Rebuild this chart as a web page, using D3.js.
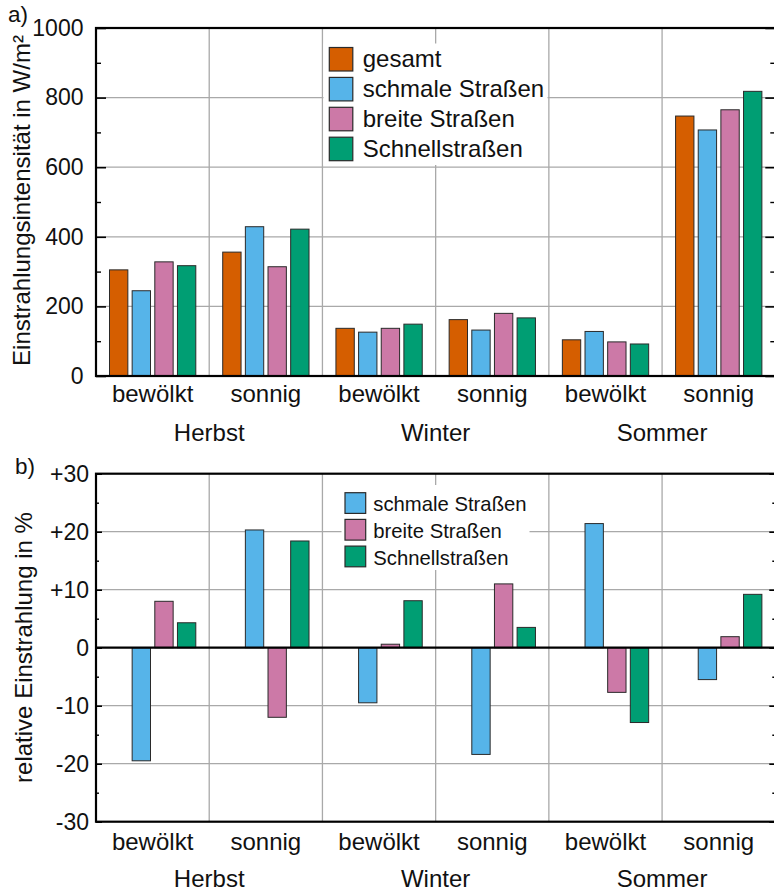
<!DOCTYPE html>
<html>
<head>
<meta charset="utf-8">
<script src="https://cdn.jsdelivr.net/npm/d3@7"></script>
<style>
  html, body { margin: 0; padding: 0; background: #fff; }
  svg { display: block; font-family: "Liberation Sans", Arial, Helvetica, sans-serif; }
</style>
</head>
<body>
<svg id="chart" width="774" height="892"></svg>
<script>
// ---- data ----
const seasons = ["Herbst", "Winter", "Sommer"];
const weather = ["bewölkt", "sonnig"];
const seriesNames = ["gesamt", "schmale Straßen", "breite Straßen", "Schnellstraßen"];
const seriesColors = ["#D55E00", "#56B4E9", "#CC79A7", "#009E73"];

// a) irradiance in W/m² per category (Herbst bewölkt, Herbst sonnig, Winter ..., Sommer ...)
const gesamt  = [305, 356, 137, 162, 104, 747];
const schmale = [245, 429, 126, 132, 128, 707];
const breite  = [328, 314, 137, 180,  98, 765];
const schnell = [317, 422, 149, 167,  92, 818];

// b) irradiance relative to "gesamt" in %
const relSchmale = [-19.5, 20.3, -9.5, -18.4, 21.4, -5.5];
const relBreite  = [  8.0, -12.0, 0.6,  11.0, -7.7,  1.9];
const relSchnell = [  4.3, 18.4,  8.1,   3.5, -12.9, 9.2];

const ticksA = [0, 200, 400, 600, 800, 1000];
const minorA = [100, 300, 500, 700, 900];
const ticksB = [-30, -20, -10, 0, 10, 20, 30];
const minorB = [-25, -15, -5, 5, 15, 25];

const categories = [];
seasons.forEach(s => weather.forEach(w => categories.push(s + "|" + w)));

// ---- layout ----
const svg = d3.select("#chart");
const X0 = 96, X1 = 775.3;
const x = d3.scaleBand().domain(categories).range([X0, X1]);
const xSeason = d3.scaleBand().domain(seasons).range([X0, X1]);
const inner = d3.scaleBand().domain(seriesNames).range([13.5, 99.8]).paddingInner(0.19);
const colorOf = d3.scaleOrdinal().domain(seriesNames).range(seriesColors);

const FONT_TICK = 23, FONT_LABEL = 24;
const GRID = "#a9a9a9";

function panel(opt) {
  const g = svg.append("g");
  const y = opt.y;
  const [yBot, yTop] = y.range();

  // grid
  g.append("g").selectAll("line").data(opt.grid).join("line")
    .attr("x1", X0).attr("x2", X1)
    .attr("y1", d => y(d)).attr("y2", d => y(d))
    .attr("stroke", GRID).attr("stroke-width", 1.3);
  g.append("g").selectAll("line").data(categories.slice(1)).join("line")
    .attr("x1", d => x(d)).attr("x2", d => x(d))
    .attr("y1", yTop).attr("y2", yBot)
    .attr("stroke", GRID).attr("stroke-width", 1.3);

  // legend
  const lg = g.append("g");
  lg.append("rect")
    .attr("x", opt.legend.bg[0]).attr("y", opt.legend.bg[1])
    .attr("width", opt.legend.bg[2]).attr("height", opt.legend.bg[3])
    .attr("fill", "#fff");
  const items = lg.selectAll("g.item").data(opt.series).join("g").attr("class", "item");
  items.append("rect")
    .attr("x", opt.legend.x)
    .attr("y", (d, i) => opt.legend.y + i * opt.legend.step)
    .attr("width", opt.legend.size).attr("height", opt.legend.size)
    .attr("fill", d => colorOf(d.name))
    .attr("stroke", "#2a2a2a").attr("stroke-width", 1.2);
  items.append("text")
    .attr("x", opt.legend.tx)
    .attr("y", (d, i) => opt.legend.ty + i * opt.legend.tstep)
    .attr("font-size", opt.legend.font)
    .attr("fill", "#111")
    .text(d => d.name);

  // bars
  const bars = [];
  opt.series.forEach(s => s.values.forEach((v, i) => bars.push({ name: s.name, cat: categories[i], v })));
  g.append("g").selectAll("rect").data(bars).join("rect")
    .attr("x", d => x(d.cat) + inner(d.name))
    .attr("width", inner.bandwidth())
    .attr("y", d => y(Math.max(0, d.v)))
    .attr("height", d => Math.abs(y(d.v) - y(0)))
    .attr("fill", d => colorOf(d.name))
    .attr("stroke", "#2a2a2a").attr("stroke-width", 1);

  // zero line
  if (opt.zeroLine) {
    g.append("line").attr("x1", X0).attr("x2", X1)
      .attr("y1", y(0)).attr("y2", y(0))
      .attr("stroke", "#000").attr("stroke-width", 2.2);
  }

  // y axes (ticks point inward)
  const left = g.append("g").attr("transform", `translate(${X0},0)`)
    .call(d3.axisLeft(y).tickValues(opt.ticks).tickSize(-opt.major).tickSizeOuter(0)
      .tickPadding(opt.pad).tickFormat(opt.fmt));
  left.select(".domain").remove();
  left.selectAll("line").attr("stroke", "#000").attr("stroke-width", 1.6);
  left.selectAll("text").attr("font-size", FONT_TICK).attr("fill", "#111")
    .attr("font-family", null);
  const leftMinor = g.append("g").attr("transform", `translate(${X0},0)`)
    .call(d3.axisLeft(y).tickValues(opt.minor).tickSize(-opt.minorLen).tickFormat(""));
  leftMinor.select(".domain").remove();
  leftMinor.selectAll("line").attr("stroke", "#000").attr("stroke-width", 1.4);

  const right = g.append("g").attr("transform", `translate(${X1},0)`)
    .call(d3.axisRight(y).tickValues(opt.ticks).tickSize(-opt.major).tickFormat(""));
  right.select(".domain").remove();
  right.selectAll("line").attr("stroke", "#000").attr("stroke-width", 1.6);
  const rightMinor = g.append("g").attr("transform", `translate(${X1},0)`)
    .call(d3.axisRight(y).tickValues(opt.minor).tickSize(-opt.minorLen).tickFormat(""));
  rightMinor.select(".domain").remove();
  rightMinor.selectAll("line").attr("stroke", "#000").attr("stroke-width", 1.4);

  // frame
  g.append("rect").attr("x", X0).attr("y", yTop)
    .attr("width", X1 - X0).attr("height", yBot - yTop)
    .attr("fill", "none").attr("stroke", "#000").attr("stroke-width", 2.2);

  // category labels
  const bottom = g.append("g").attr("transform", `translate(0,${yBot})`)
    .call(d3.axisBottom(x).tickSize(0).tickFormat(d => d.split("|")[1]));
  bottom.select(".domain").remove();
  bottom.selectAll("text").attr("dy", null).attr("y", opt.catOffset)
    .attr("font-size", FONT_LABEL).attr("fill", "#111").attr("font-family", null);

  // season labels
  g.append("g").selectAll("text").data(seasons).join("text")
    .attr("x", d => xSeason(d) + xSeason.bandwidth() / 2)
    .attr("y", yBot + opt.seasonOffset)
    .attr("text-anchor", "middle")
    .attr("font-size", FONT_LABEL).attr("fill", "#111")
    .text(d => d);

  // y title
  g.append("text")
    .attr("transform", `translate(${opt.titleX},${opt.titleY}) rotate(-90)`)
    .attr("text-anchor", "middle")
    .attr("font-size", FONT_LABEL).attr("fill", "#111")
    .text(opt.title);

  // panel letter
  g.append("text").attr("x", opt.letterPos[0]).attr("y", opt.letterPos[1])
    .attr("font-size", 22.5).attr("fill", "#111").text(opt.letter);
}

// a) absolute irradiance
panel({
  y: d3.scaleLinear().domain([0, 1000]).range([376, 28]),
  series: [
    { name: seriesNames[0], values: gesamt },
    { name: seriesNames[1], values: schmale },
    { name: seriesNames[2], values: breite },
    { name: seriesNames[3], values: schnell }
  ],
  grid: [200, 400, 600, 800],
  ticks: ticksA, minor: minorA, major: 10, minorLen: 5, pad: 12.5,
  fmt: d3.format("d"),
  zeroLine: false,
  legend: { bg: [323.5, 43.5, 224, 121.5], x: 329.3, y: 47.5, step: 29.9, size: 23.5,
            tx: 362.7, ty: 66.5, tstep: 30, font: 24 },
  catOffset: 26, seasonOffset: 64.5,
  title: "Einstrahlungsintensität in W/m²", titleX: 30, titleY: 200.5,
  letter: "a)", letterPos: [8, 22]
});

// b) relative irradiance
panel({
  y: d3.scaleLinear().domain([-30, 30]).range([821.7, 473.7]),
  series: [
    { name: seriesNames[1], values: relSchmale },
    { name: seriesNames[2], values: relBreite },
    { name: seriesNames[3], values: relSchnell }
  ],
  grid: [-20, -10, 10, 20],
  ticks: ticksB, minor: minorB, major: 6, minorLen: 3, pad: 7,
  fmt: d => d > 0 ? "+" + d : (d < 0 ? "-" + Math.abs(d) : "0"),
  zeroLine: true,
  legend: { bg: [341.5, 485, 188, 85], x: 345, y: 492.7, step: 26.7, size: 20.7,
            tx: 373.3, ty: 510.7, tstep: 27.2, font: 20.3 },
  catOffset: 28, seasonOffset: 65.5,
  title: "relative Einstrahlung in %", titleX: 31.5, titleY: 647.5,
  letter: "b)", letterPos: [15, 473.5]
});
</script>
</body>
</html>
